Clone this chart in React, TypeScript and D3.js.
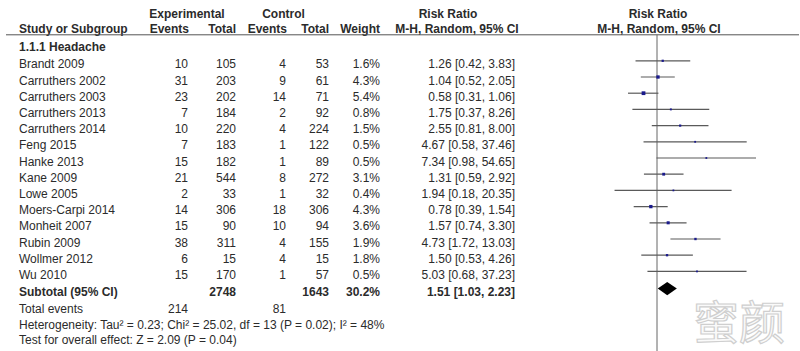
import React from "react";
import * as d3 from "d3";

const studies = [
  "Brandt 2009", "Carruthers 2002", "Carruthers 2003", "Carruthers 2013", "Carruthers 2014",
  "Feng 2015", "Hanke 2013", "Kane 2009", "Lowe 2005", "Moers-Carpi 2014",
  "Monheit 2007", "Rubin 2009", "Wollmer 2012", "Wu 2010",
];
const expEvents = [10, 31, 23, 7, 10, 7, 15, 21, 2, 14, 15, 38, 6, 15];
const expTotal = [105, 203, 202, 184, 220, 183, 182, 544, 33, 306, 90, 311, 15, 170];
const ctrlEvents = [4, 9, 14, 2, 4, 1, 1, 8, 1, 18, 10, 4, 4, 1];
const ctrlTotal = [53, 61, 71, 92, 224, 122, 89, 272, 32, 306, 94, 155, 15, 57];
const weights = [1.6, 4.3, 5.4, 0.8, 1.5, 0.5, 0.5, 3.1, 0.4, 4.3, 3.6, 1.9, 1.8, 0.5];
const rr = [1.26, 1.04, 0.58, 1.75, 2.55, 4.67, 7.34, 1.31, 1.94, 0.78, 1.57, 4.73, 1.5, 5.03];
const lo = [0.42, 0.52, 0.31, 0.37, 0.81, 0.58, 0.98, 0.59, 0.18, 0.39, 0.74, 1.72, 0.53, 0.68];
const hi = [3.83, 2.05, 1.06, 8.26, 8.0, 37.46, 54.65, 2.92, 20.35, 1.54, 3.3, 13.03, 4.26, 37.23];
const subtotal = { expTotal: 2748, ctrlTotal: 1643, weight: "30.2%", rr: 1.51, lo: 1.03, hi: 2.23 };
const totalEvents = { exp: 214, ctrl: 81 };
const heterogeneity = "Heterogeneity: Tau² = 0.23; Chi² = 25.02, df = 13 (P = 0.02); I² = 48%";
const overallEffect = "Test for overall effect: Z = 2.09 (P = 0.04)";

const W = 800, H = 351;
const FONT = "'Liberation Sans', Arial, Helvetica, sans-serif";
const TXT = "#2b2b2b";

export default function App() {
  const x = d3.scaleLog().domain([0.01, 100]).range([657 - 114, 657 + 114]);
  const rowStep = 16.2;
  const baseY = (i: number) => 68.3 + i * rowStep;
  const lineY = (i: number) => 60.8 + i * rowStep;
  const fmt = d3.format(".2f");
  const sq = (w: number) => 1.6 + w * 0.4;

  const cols = { name: 19, ee: 188, et: 236, ce: 286, ct: 329, wt: 380, rr: 515 };
  const subIdx = studies.length;

  return (
    <svg width={W} height={H} style={{ position: "absolute", left: 0, top: 0, background: "#fff" }}
      fontFamily={FONT} fontSize={12} fill={TXT}>
      <rect x={0} y={0} width={W} height={H} fill="#fff" />
      {/* Header */}
      <g fontWeight="bold" fill={TXT}>
        <text x={187} y={18.3} textAnchor="middle">Experimental</text>
        <text x={283.5} y={18.3} textAnchor="middle">Control</text>
        <text x={448} y={18.3} textAnchor="middle">Risk Ratio</text>
        <text x={658} y={18.3} textAnchor="middle">Risk Ratio</text>
        <text x={19} y={33}>Study or Subgroup</text>
        <text x={189} y={33} textAnchor="end">Events</text>
        <text x={236} y={33} textAnchor="end">Total</text>
        <text x={287} y={33} textAnchor="end">Events</text>
        <text x={329} y={33} textAnchor="end">Total</text>
        <text x={380} y={33} textAnchor="end">Weight</text>
        <text x={457} y={33} textAnchor="middle">M-H, Random, 95% CI</text>
        <text x={659} y={33} textAnchor="middle">M-H, Random, 95% CI</text>
        <text x={19} y={51}>1.1.1 Headache</text>
      </g>
      <line x1={6} x2={799} y1={34.8} y2={34.8} stroke="#555" strokeWidth={1} />
      {/* null line */}
      <line x1={x(1)} x2={x(1)} y1={34.8} y2={H} stroke="#666" strokeWidth={1} />

      {studies.map((s, i) => (
        <g key={s}>
          <text x={cols.name} y={baseY(i)}>{s}</text>
          <text x={cols.ee} y={baseY(i)} textAnchor="end">{expEvents[i]}</text>
          <text x={cols.et} y={baseY(i)} textAnchor="end">{expTotal[i]}</text>
          <text x={cols.ce} y={baseY(i)} textAnchor="end">{ctrlEvents[i]}</text>
          <text x={cols.ct} y={baseY(i)} textAnchor="end">{ctrlTotal[i]}</text>
          <text x={cols.wt} y={baseY(i)} textAnchor="end">{weights[i].toFixed(1)}%</text>
          <text x={cols.rr} y={baseY(i)} textAnchor="end">{`${fmt(rr[i])} [${fmt(lo[i])}, ${fmt(hi[i])}]`}</text>
          <line x1={x(lo[i])} x2={x(hi[i])} y1={lineY(i)} y2={lineY(i)} stroke="#5a5a5a" strokeWidth={1.2} />
          <rect x={x(rr[i]) - sq(weights[i]) / 2} y={lineY(i) - sq(weights[i]) / 2}
            width={sq(weights[i])} height={sq(weights[i])} fill="#1a1a8c" />
        </g>
      ))}

      <g fontWeight="bold">
        <text x={cols.name} y={baseY(subIdx) + 1}>Subtotal (95% CI)</text>
        <text x={cols.et} y={baseY(subIdx) + 1} textAnchor="end">{subtotal.expTotal}</text>
        <text x={cols.ct} y={baseY(subIdx) + 1} textAnchor="end">{subtotal.ctrlTotal}</text>
        <text x={cols.wt} y={baseY(subIdx) + 1} textAnchor="end">{subtotal.weight}</text>
        <text x={cols.rr} y={baseY(subIdx) + 1} textAnchor="end">{`${fmt(subtotal.rr)} [${fmt(subtotal.lo)}, ${fmt(subtotal.hi)}]`}</text>
      </g>
      {(() => {
        const cy = lineY(subIdx) + 1;
        const pts = [
          [x(subtotal.lo), cy], [x(subtotal.rr), cy - 6.7], [x(subtotal.hi), cy], [x(subtotal.rr), cy + 6.7],
        ];
        return <polygon points={pts.map((p) => p.join(",")).join(" ")} fill="#000" />;
      })()}

      <text x={cols.name} y={312.5}>Total events</text>
      <text x={cols.ee} y={312.5} textAnchor="end">{totalEvents.exp}</text>
      <text x={cols.ce} y={312.5} textAnchor="end">{totalEvents.ctrl}</text>
      <text x={cols.name} y={328.5}>{heterogeneity}</text>
      <text x={cols.name} y={344.3}>{overallEffect}</text>

      {/* watermark */}
      <text x={739} y={339} textAnchor="middle" fontFamily="'Noto Sans CJK SC', sans-serif"
        fontSize={46} fill="#fafafa" stroke="#cfcfcf" strokeWidth={1.2}>蜜颜</text>
    </svg>
  );
}
